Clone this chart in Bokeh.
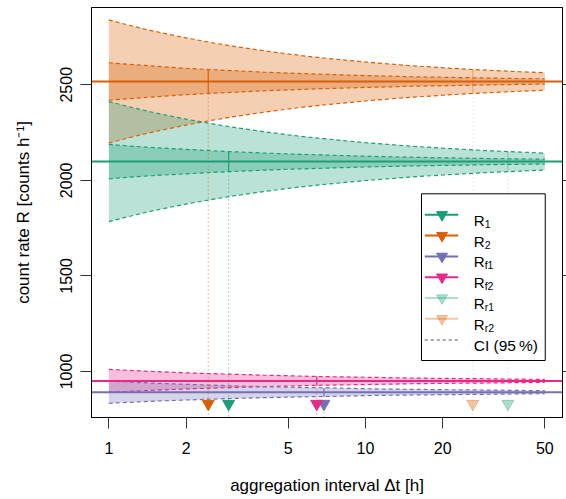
import math
from bokeh.plotting import figure
from bokeh.models import Span, FixedTicker, LinearAxis, Range1d, CustomJSTickFormatter
from bokeh.embed import file_html
from bokeh.resources import INLINE
from bokeh.core.properties import value

# ---------------- data ----------------
dt = [1, 1.25, 1.5, 2, 2.5, 3, 4, 5, 6, 8, 10, 12.5, 15, 20, 25, 30, 40, 50]

rate_R1 = 2098
rate_R2 = 2517
rate_Rf1 = 892
rate_Rf2 = 951

# CI (95 %) half-widths [counts/h] at each aggregation interval
ci_R1 = [90, 80, 73, 64, 57, 52, 45, 40, 37, 32, 28, 25, 23, 20, 18, 16, 14, 13]
ci_R2 = [98, 88, 80, 69, 62, 57, 49, 44, 40, 35, 31, 28, 25, 22, 20, 18, 15, 14]
ci_Rf1 = [58, 52, 47, 41, 37, 33, 29, 26, 24, 21, 18, 16, 15, 13, 12, 11, 9, 8]
ci_Rf2 = [60, 54, 49, 42, 38, 35, 30, 27, 24, 21, 19, 17, 15, 13, 12, 11, 9, 8]
ci_Rr1 = [314, 281, 256, 222, 199, 181, 157, 140, 128, 111, 99, 89, 81, 70, 63, 57, 50, 44]
ci_Rr2 = [322, 288, 263, 228, 204, 186, 161, 144, 131, 114, 102, 91, 83, 72, 64, 59, 51, 46]

# optimal aggregation interval per quantity and CI half-width there
opt_names = ["R1", "R2", "Rf1", "Rf2", "Rr1", "Rr2"]
opt_dt = [2.93, 2.44, 6.89, 6.46, 35.9, 26.2]
opt_ci = [52, 62, 22, 24, 52, 63]

x_ticks = [1, 2, 5, 10, 20, 50]
y_ticks = [1000, 1500, 2000, 2500]

legend_main = ["R", "R", "R", "R", "R", "R"]
legend_sub = ["1", "2", "f1", "f2", "r1", "r2"]
legend_ci = "CI (95\u2009%)"

# ---------------- styling ----------------
GREEN = "#1B9E77"
ORANGE = "#D95F02"
PURPLE = "#7570B3"
PINK = "#E7298A"
FONT = "Liberation Sans"

W, H = 566, 499
BL, BR, BT, BB = 91, 3, 7, 82
X0, X1 = 0.856, 58.6
Y0, Y1 = 759.5, 2904

def px_x(px):
    f = (px - BL) / (W - BR - BL)
    return 10 ** (math.log10(X0) + f * (math.log10(X1) - math.log10(X0)))

def px_y(py):
    f = (py - BT) / (H - BB - BT)
    return Y1 - f * (Y1 - Y0)

p = figure(width=W, height=H, x_axis_type="log",
           x_range=Range1d(X0, X1), y_range=Range1d(Y0, Y1),
           output_backend="svg", toolbar_location=None,
           min_border_left=BL, min_border_right=BR,
           min_border_top=BT, min_border_bottom=BB)
p.grid.visible = False
p.outline_line_color = "black"
p.outline_line_width = 1

# ---------------- bands ----------------
def band(center, ci, color, alpha=0.3):
    lo = [center - c for c in ci]
    hi = [center + c for c in ci]
    p.varea(x=dt, y1=lo, y2=hi, fill_color=color, fill_alpha=alpha)
    return lo, hi

edges = []
edges.append((band(rate_R2, ci_Rr2, ORANGE), ORANGE))
edges.append((band(rate_R1, ci_Rr1, GREEN), GREEN))
edges.append((band(rate_R2, ci_R2, ORANGE), ORANGE))
edges.append((band(rate_R1, ci_R1, GREEN), GREEN))
edges.append((band(rate_Rf2, ci_Rf2, PINK), PINK))
edges.append((band(rate_Rf1, ci_Rf1, PURPLE), PURPLE))

for (lo, hi), col in edges:
    p.line(dt, lo, line_color=col, line_width=1.2, line_dash="4 3")
    p.line(dt, hi, line_color=col, line_width=1.2, line_dash="4 3")

# ---------------- optimal intervals ----------------
centers = [rate_R1, rate_R2, rate_Rf1, rate_Rf2, rate_R1, rate_R2]
cols = [GREEN, ORANGE, PURPLE, PINK, GREEN, ORANGE]
alphas = [1, 1, 1, 1, 0.35, 0.35]
tri_y = px_y(403.3)
for c, col, a, xo, ho in zip(centers, cols, alphas, opt_dt, opt_ci):
    p.line([xo, xo], [c - ho, Y0], line_color=col, line_alpha=0.8 * a, line_width=1, line_dash="1 3")
    p.line([xo, xo], [c - ho, c + ho], line_color=col, line_alpha=a, line_width=1.2)
    p.scatter([xo], [tri_y], marker="inverted_triangle", size=12,
              fill_color=col, line_color=col, fill_alpha=a, line_alpha=a)

for c, col in [(rate_R1, GREEN), (rate_R2, ORANGE), (rate_Rf1, PURPLE), (rate_Rf2, PINK)]:
    p.add_layout(Span(location=c, dimension="width", line_color=col, line_width=2))

# ---------------- legend (drawn manually) ----------------
p.quad(left=[px_x(421.7)], right=[px_x(545.7)], top=[px_y(193.3)], bottom=[px_y(360)],
       fill_color="white", line_color="black", line_width=1)
rows = [214.3, 235.1, 255.9, 276.7, 297.5, 318.3]
leg_cols = [GREEN, ORANGE, PURPLE, PINK, GREEN, ORANGE]
leg_alpha = [1, 1, 1, 1, 0.35, 0.35]
for r, col, a, m, s in zip(rows, leg_cols, leg_alpha, legend_main, legend_sub):
    yy = px_y(r)
    p.line([px_x(425), px_x(458.5)], [yy, yy], line_color=col, line_alpha=a, line_width=2)
    p.scatter([px_x(442.3)], [yy], marker="inverted_triangle", size=11,
              fill_color=col, line_color=col, fill_alpha=a, line_alpha=a)
    p.text(x=[px_x(474)], y=[px_y(r + 5.4)], text=[m], text_font=value(FONT),
           text_font_size="15px", text_baseline="alphabetic", text_align="left", text_color="black")
    p.text(x=[px_x(485)], y=[px_y(r + 9.0)], text=[s], text_font=value(FONT),
           text_font_size="10.5px", text_baseline="alphabetic", text_align="left", text_color="black")
yci = px_y(339.5)
p.line([px_x(425), px_x(458.5)], [yci, yci], line_color="#555555", line_width=1, line_dash="3 3")
p.text(x=[px_x(474)], y=[px_y(339.5 + 5.4)], text=[legend_ci], text_font=value(FONT),
       text_font_size="15.5px", text_baseline="alphabetic", text_align="left", text_color="black")

# ---------------- axes ----------------
p.xaxis.ticker = FixedTicker(ticks=x_ticks)
p.xaxis.formatter = CustomJSTickFormatter(code="return String(tick)")
p.yaxis.ticker = FixedTicker(ticks=y_ticks)
for ax in (p.xaxis[0], p.yaxis[0]):
    ax.axis_line_color = "black"
    ax.major_tick_line_color = "#333333"
    ax.minor_tick_line_color = None
    ax.major_tick_in = 0
    ax.major_label_text_font = FONT
    ax.major_label_text_font_size = "16px"
    ax.major_label_text_color = "black"
    ax.axis_label_text_font = FONT
    ax.axis_label_text_font_size = "17px"
    ax.axis_label_text_font_style = "normal"
    ax.axis_label_text_color = "black"

p.xaxis.axis_label = "aggregation interval \u0394t [h]"
p.xaxis.major_tick_out = 11
p.xaxis.major_label_standoff = 13
p.xaxis.axis_label_standoff = 19

p.yaxis.axis_label = "count rate R [counts h\u207b\u00b9]"
p.yaxis.major_tick_out = 11
p.yaxis.major_label_standoff = 8
p.yaxis.axis_label_standoff = 25
p.yaxis.major_label_orientation = "vertical"

ra = LinearAxis(ticker=FixedTicker(ticks=y_ticks),
                formatter=CustomJSTickFormatter(code="return ''"))
ra.major_tick_out = 4
ra.major_tick_in = 0
ra.minor_tick_line_color = None
ra.major_label_standoff = 0
ra.axis_line_color = "black"
ra.major_tick_line_color = "#333333"
p.add_layout(ra, "right")

open("out.html", "w").write(file_html(p, INLINE))
